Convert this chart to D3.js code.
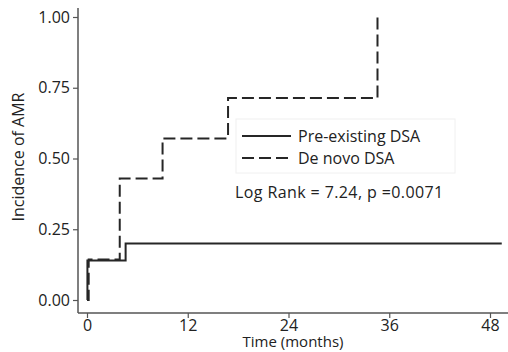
<!DOCTYPE html>
<html><head><meta charset="utf-8">
<script src="https://cdn.jsdelivr.net/npm/d3@7"></script>
<style>body{margin:0;background:#fff}svg{display:block}text{font-family:"Open Sans",sans-serif;fill:#222}</style>
</head><body><svg id="c" width="508" height="352"></svg>
<script>
const xTicks = [0, 12, 24, 36, 48];
const yTicks = [0, 0.25, 0.5, 0.75, 1.0];
const preTimes = [0, 0.05, 4.6, 49.4];
const preValues = [0, 0.14, 0.2, 0.2];
const novoTimes = [0, 0.2, 3.9, 9.0, 16.8, 34.6];
const novoValues = [0, 0.143, 0.429, 0.571, 0.714, 1.0];
const seriesNames = ["Pre-existing DSA", "De novo DSA"];
const statText = "Log Rank = 7.24, p =0.0071";

const svg = d3.select("#c");
const x = d3.scaleLinear().domain([0, 48]).range([87, 490]);
const y = d3.scaleLinear().domain([0, 1]).range([300, 17]);
const axisColor = "#555";
const fs = 16;

const yAxis = svg.append("g").attr("transform", "translate(78,0)")
  .call(d3.axisLeft(y).tickValues(yTicks).tickFormat(d3.format(".2f")).tickSize(5).tickPadding(3));
yAxis.select(".domain").attr("d", "M0,8V313");
const xAxis = svg.append("g").attr("transform", "translate(0,313)")
  .call(d3.axisBottom(x).tickValues(xTicks).tickSize(5).tickPadding(2));
xAxis.select(".domain").attr("d", "M78,0H508");
svg.selectAll(".domain").attr("stroke", axisColor).attr("stroke-width", 1.5);
svg.selectAll(".tick line").attr("stroke", axisColor).attr("stroke-width", 1.2);
svg.selectAll(".tick text").attr("font-size", fs).attr("fill", "#222").attr("font-family", "Open Sans, sans-serif");

const line = d3.line().x(d => x(d[0])).y(d => y(d[1])).curve(d3.curveStepAfter);
svg.append("path").datum(preTimes.map((t, i) => [t, preValues[i]]))
  .attr("d", line).attr("fill", "none").attr("stroke", "#262626").attr("stroke-width", 2);
svg.append("path").datum(novoTimes.map((t, i) => [t, novoValues[i]]))
  .attr("d", line).attr("fill", "none").attr("stroke", "#262626").attr("stroke-width", 2)
  .attr("stroke-dasharray", "12,5");

// legend
svg.append("rect").attr("x", 236).attr("y", 119).attr("width", 219).attr("height", 54)
  .attr("fill", "#fff").attr("stroke", "#f0f0f0");
const lg = [{n: seriesNames[0], dash: null, yy: 136}, {n: seriesNames[1], dash: "12,5", yy: 158}];
lg.forEach(d => {
  svg.append("line").attr("x1", 242).attr("x2", 291).attr("y1", d.yy).attr("y2", d.yy)
    .attr("stroke", "#262626").attr("stroke-width", 2).attr("stroke-dasharray", d.dash);
  svg.append("text").attr("x", 298).attr("y", d.yy + 6).attr("font-size", fs).text(d.n);
});
svg.append("text").attr("x", 235).attr("y", 198).attr("font-size", fs).attr("letter-spacing", 0.4).text(statText);

svg.append("text").attr("x", 293).attr("y", 347).attr("text-anchor", "middle").attr("font-size", 15).text("Time (months)");
svg.append("text").attr("transform", "translate(24,157) rotate(-90)").attr("text-anchor", "middle").attr("font-size", fs).text("Incidence of AMR");
</script></body></html>
